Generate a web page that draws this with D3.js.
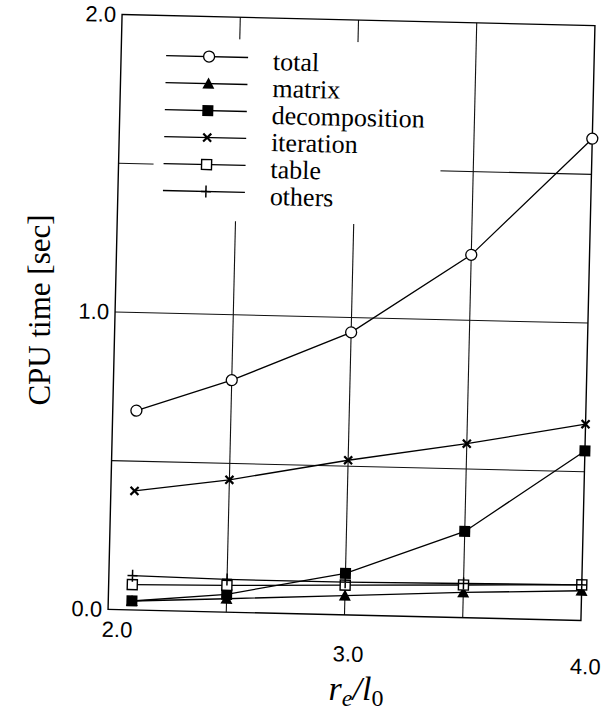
<!DOCTYPE html>
<html>
<head>
<meta charset="utf-8">
<script src="https://cdn.jsdelivr.net/npm/d3@7"></script>
<style>
  body { margin: 0; background: #fff; }
</style>
</head>
<body>
<div id="chart"></div>
<script>
//data
const xValues = [2.1, 2.5, 3.0, 3.5, 4.0];
const seriesNames = ["total", "matrix", "decomposition", "iteration", "table", "others"];
const totalValues = [0.67, 0.78, 0.95, 1.22, 1.62];
const matrixValues = [0.03, 0.045, 0.065, 0.085, 0.10];
const decompositionValues = [0.03, 0.06, 0.14, 0.29, 0.57];
const iterationValues = [0.40, 0.445, 0.52, 0.585, 0.66];
const tableValues = [0.085, 0.09, 0.10, 0.11, 0.12];
const othersValues = [0.115, 0.11, 0.11, 0.115, 0.12];
const xTicks = [2.0, 3.0, 4.0];
const yTicks = [0.0, 1.0, 2.0];
const xGrid = [2.5, 3.0, 3.5];
const yGrid = [0.5, 1.0, 1.5];

const seriesValues = [totalValues, matrixValues, decompositionValues, iterationValues, tableValues, othersValues];
const seriesMarkers = ["circle", "triangle", "square", "cross", "openSquare", "plus"];

//****************************************************************************
//svg
const canvWidth = 613, canvHeight = 715;
const margin = {top: 20, right: 25, bottom: 100, left: 115};
const width = canvWidth - margin.left - margin.right;
const height = canvHeight - margin.top - margin.bottom;

const svg = d3.select("#chart").append("svg")
  .attr("width", canvWidth)
  .attr("height", canvHeight);

//the scanned figure sits slightly turned
const cx = margin.left + width / 2, cy = margin.top + height / 2;
const g = svg.append("g")
  .attr("transform", `rotate(1.35, ${cx}, ${cy})`);

const plot = g.append("g")
  .attr("transform", `translate(${margin.left},${margin.top})`);

//scales
const xScale = d3.scaleLinear().domain([2, 4]).range([0, width]);
const yScale = d3.scaleLinear().domain([0, 2]).range([height, 0]);

//grid
plot.selectAll(".vgrid").data(xGrid).enter().append("line")
  .attr("x1", d => xScale(d)).attr("x2", d => xScale(d))
  .attr("y1", 0).attr("y2", height)
  .attr("stroke", "#111").attr("stroke-width", 1.1);

plot.selectAll(".hgrid").data(yGrid).enter().append("line")
  .attr("x1", 0).attr("x2", width)
  .attr("y1", d => yScale(d)).attr("y2", d => yScale(d))
  .attr("stroke", "#111").attr("stroke-width", 1.1);

//frame
plot.append("rect")
  .attr("width", width).attr("height", height)
  .attr("fill", "none").attr("stroke", "#000").attr("stroke-width", 1.4);

//legend background hides the grid
plot.append("rect")
  .attr("x", 35).attr("y", 22)
  .attr("width", 287).attr("height", 182)
  .attr("fill", "#fff");

//axes tick labels
const xAxis = d3.axisBottom(xScale).tickValues(xTicks).tickFormat(d3.format(".1f")).tickSize(0);
const xLabelShift = [[9, 9], [4, 28], [5, 35]];
plot.append("g")
  .attr("transform", `translate(0,${height})`)
  .call(xAxis)
  .call(a => a.select(".domain").remove())
  .selectAll("text")
  .attr("font-family", "'Liberation Sans', Arial, sans-serif")
  .attr("font-size", 22)
  .attr("fill", "#000")
  .attr("transform", (d, i) => `translate(${xLabelShift[i][0]},${xLabelShift[i][1]})`);

const yAxis = d3.axisLeft(yScale).tickValues(yTicks).tickFormat(d3.format(".1f")).tickSize(0).tickPadding(6);
plot.append("g")
  .call(yAxis)
  .call(a => a.select(".domain").remove())
  .selectAll("text")
  .attr("font-family", "'Liberation Sans', Arial, sans-serif")
  .attr("font-size", 22)
  .attr("fill", "#000");

//axis titles
svg.append("text")
  .attr("transform", "translate(50,310) rotate(-90)")
  .attr("text-anchor", "middle")
  .attr("font-family", "'Liberation Serif', 'Times New Roman', serif")
  .attr("font-size", 31)
  .text("CPU time [sec]");

const xTitle = svg.append("text")
  .attr("x", 356).attr("y", 700)
  .attr("text-anchor", "middle")
  .attr("font-family", "'Liberation Serif', 'Times New Roman', serif")
  .attr("font-size", 34);
xTitle.append("tspan").attr("font-style", "italic").text("r");
xTitle.append("tspan").attr("font-style", "italic").attr("font-size", 24).attr("dy", 6).text("e");
xTitle.append("tspan").attr("font-style", "italic").attr("dy", -6).text("/l");
xTitle.append("tspan").attr("font-size", 24).attr("dy", 6).text("0");

//markers
const drawMarker = (sel, type) => {
  if (type === "circle") {
    sel.append("circle").attr("r", 5.5).attr("fill", "#fff").attr("stroke", "#000").attr("stroke-width", 1.3);
  } else if (type === "triangle") {
    sel.append("path").attr("d", "M0,-6L6,5L-6,5Z").attr("fill", "#000");
  } else if (type === "square") {
    sel.append("rect").attr("x", -5.5).attr("y", -5.5).attr("width", 11).attr("height", 11).attr("fill", "#000");
  } else if (type === "openSquare") {
    sel.append("rect").attr("x", -5).attr("y", -5).attr("width", 10).attr("height", 10)
      .attr("fill", "#fff").attr("stroke", "#000").attr("stroke-width", 1.4);
  } else if (type === "cross") {
    sel.append("path").attr("d", "M-4,-4L4,4M-4,4L4,-4").attr("stroke", "#000").attr("stroke-width", 2.2);
  } else if (type === "plus") {
    sel.append("path").attr("d", "M-5,0L5,0M0,-6L0,6").attr("stroke", "#000").attr("stroke-width", 1.5);
  }
};

//lines and points
const line = d3.line().x(d => xScale(d[0])).y(d => yScale(d[1]));

seriesNames.forEach((name, i) => {
  const pts = xValues.map((x, j) => [x, seriesValues[i][j]]);
  plot.append("path")
    .datum(pts)
    .attr("d", line)
    .attr("fill", "none")
    .attr("stroke", "#000")
    .attr("stroke-width", 1.3);
});

seriesNames.forEach((name, i) => {
  const pts = xValues.map((x, j) => [x, seriesValues[i][j]]);
  plot.selectAll(".pt" + i).data(pts).enter().append("g")
    .attr("transform", d => `translate(${xScale(d[0])},${yScale(d[1])})`)
    .each(function () { drawMarker(d3.select(this), seriesMarkers[i]); });
});

//legend
const legend = plot.append("g").attr("transform", "translate(45,40)");
const legendRow = legend.selectAll("g").data(seriesNames).enter().append("g")
  .attr("transform", (d, i) => `translate(0,${i * 27})`);

legendRow.append("line")
  .attr("x1", 0).attr("x2", 82)
  .attr("stroke", "#000").attr("stroke-width", 1.3);

legendRow.append("g")
  .attr("transform", "translate(43,0)")
  .each(function (d, i) { drawMarker(d3.select(this), seriesMarkers[i]); });

legendRow.append("text")
  .attr("x", 107).attr("y", 12)
  .attr("font-family", "'Liberation Serif', 'Times New Roman', serif")
  .attr("font-size", 26)
  .text(d => d);
</script>
</body>
</html>
